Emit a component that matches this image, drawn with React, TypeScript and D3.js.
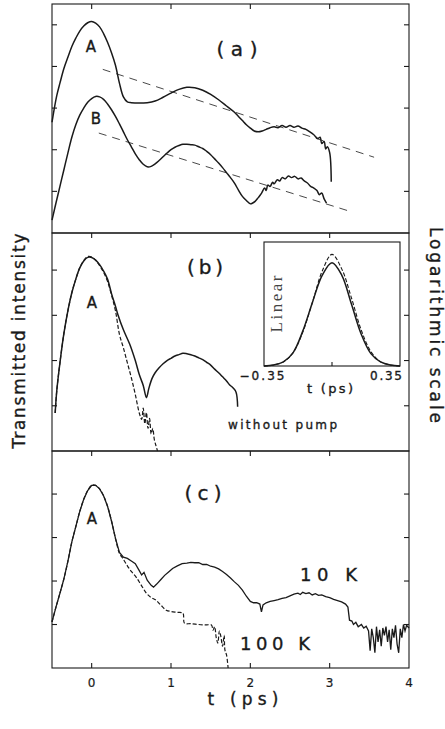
import React from "react";
import * as d3 from "d3";

// ---------- DATA ----------
const xTicks = [0, 1, 2, 3, 4];
const xTickLabels = ["0", "1", "2", "3", "4"];

// Panel (a): curves A and B (t in ps, log-intensity in tick units)
const aCurveA: [number, number][] = [
  [-0.5, 2.66], [-0.47, 3.0], [-0.44, 3.3], [-0.4, 3.6], [-0.35, 3.95], [-0.3, 4.22], [-0.25, 4.48], [-0.2, 4.68],
  [-0.15, 4.85], [-0.1, 4.97], [-0.05, 5.05], [0, 5.08], [0.05, 5.04], [0.1, 4.95], [0.15, 4.79], [0.2, 4.58],
  [0.25, 4.33], [0.3, 4.03], [0.35, 3.6], [0.4, 3.27], [0.45, 3.15], [0.5, 3.13], [0.6, 3.12], [0.7, 3.13],
  [0.8, 3.17], [0.9, 3.26], [1.0, 3.36], [1.1, 3.45], [1.2, 3.5], [1.3, 3.49], [1.4, 3.43], [1.5, 3.33],
  [1.6, 3.2], [1.7, 3.05], [1.8, 2.9], [1.85, 2.8], [1.9, 2.7], [1.95, 2.6], [2.0, 2.52], [2.05, 2.45],
  [2.1, 2.43], [2.15, 2.45], [2.2, 2.49], [2.25, 2.53], [2.3, 2.55], [2.35, 2.53], [2.4, 2.58], [2.45, 2.54],
  [2.5, 2.58], [2.55, 2.54], [2.6, 2.57], [2.65, 2.52], [2.7, 2.49], [2.75, 2.43], [2.8, 2.36], [2.85, 2.27],
  [2.88, 2.3], [2.9, 2.15], [2.93, 2.2], [2.95, 2.02], [2.97, 2.07], [3.0, 1.93], [3.02, 1.23],
];
const aCurveB: [number, number][] = [
  [-0.5, 0.31], [-0.45, 0.72], [-0.4, 1.12], [-0.35, 1.52], [-0.3, 1.92], [-0.25, 2.3], [-0.2, 2.6], [-0.15, 2.83],
  [-0.1, 3.0], [-0.05, 3.14], [0, 3.23], [0.05, 3.28], [0.1, 3.27], [0.15, 3.21], [0.2, 3.1], [0.25, 2.96],
  [0.3, 2.8], [0.35, 2.62], [0.4, 2.43], [0.45, 2.24], [0.5, 2.07], [0.55, 1.9], [0.6, 1.76], [0.65, 1.65],
  [0.7, 1.59], [0.75, 1.6], [0.8, 1.66], [0.85, 1.74], [0.9, 1.83], [0.95, 1.92], [1.0, 2.0], [1.05, 2.06],
  [1.1, 2.1], [1.15, 2.13], [1.2, 2.13], [1.25, 2.12], [1.3, 2.11], [1.35, 2.07], [1.4, 2.03], [1.45, 1.96],
  [1.5, 1.88], [1.55, 1.78], [1.6, 1.68], [1.65, 1.57], [1.7, 1.45], [1.75, 1.33], [1.8, 1.2], [1.85, 1.03],
  [1.9, 0.88], [1.95, 0.78], [2.0, 0.7], [2.03, 0.72], [2.06, 0.76], [2.1, 0.85], [2.14, 0.95], [2.18, 1.08],
  [2.2, 1.02], [2.22, 1.15], [2.25, 1.12], [2.28, 1.22], [2.3, 1.18], [2.34, 1.28], [2.37, 1.25], [2.4, 1.33],
  [2.44, 1.3], [2.48, 1.37], [2.52, 1.33], [2.56, 1.36], [2.6, 1.3], [2.64, 1.32], [2.68, 1.25], [2.72, 1.2],
  [2.76, 1.12], [2.8, 1.08], [2.84, 1.02], [2.87, 0.92], [2.9, 0.96], [2.93, 0.82], [2.96, 0.72],
];
const aGuide1: [number, number][] = [[0.14, 3.93], [3.56, 1.82]];
const aGuide2: [number, number][] = [[0.09, 2.4], [3.29, 0.5]];

// Panel (b): with pump (solid) and without pump (dashed)
const bSolid: [number, number][] = [
  [-0.46, 0.84], [-0.44, 1.33], [-0.4, 1.95], [-0.35, 2.6], [-0.3, 3.1], [-0.25, 3.5], [-0.2, 3.8], [-0.15, 4.05],
  [-0.1, 4.2], [-0.05, 4.28], [0, 4.28], [0.05, 4.22], [0.1, 4.12], [0.15, 3.98], [0.2, 3.8], [0.25, 3.48],
  [0.3, 3.2], [0.33, 3.02], [0.4, 2.68], [0.48, 2.36], [0.55, 2.0], [0.6, 1.69], [0.65, 1.45], [0.69, 1.18],
  [0.72, 1.38], [0.76, 1.6], [0.8, 1.73], [0.85, 1.84], [0.9, 1.93], [0.95, 2.0], [1.0, 2.05], [1.05, 2.1],
  [1.1, 2.13], [1.15, 2.16], [1.2, 2.15], [1.25, 2.13], [1.3, 2.1], [1.35, 2.06], [1.4, 2.02], [1.45, 1.96],
  [1.5, 1.9], [1.55, 1.81], [1.6, 1.73], [1.65, 1.64], [1.7, 1.55], [1.74, 1.46], [1.78, 1.4], [1.82, 1.3],
  [1.84, 0.98],
];
const bDashed: [number, number][] = [
  [-0.46, 0.84], [-0.44, 1.33], [-0.4, 1.95], [-0.35, 2.6], [-0.3, 3.1], [-0.25, 3.5], [-0.2, 3.8], [-0.15, 4.05],
  [-0.1, 4.21], [-0.05, 4.3], [0, 4.29], [0.05, 4.22], [0.1, 4.1], [0.15, 3.95], [0.2, 3.75], [0.25, 3.45],
  [0.3, 3.1], [0.35, 2.58], [0.4, 2.28], [0.45, 1.95], [0.5, 1.62], [0.55, 1.25], [0.6, 0.84], [0.63, 0.7],
  [0.65, 0.95], [0.67, 0.6], [0.69, 0.85], [0.71, 0.5], [0.73, 0.72], [0.75, 0.38], [0.77, 0.5], [0.79, 0.25],
  [0.81, 0.12], [0.83, 0.0],
];

// Inset (linear scale)
const insetT = [-0.35, -0.3, -0.25, -0.2, -0.15, -0.1, -0.05, 0, 0.05, 0.1, 0.15, 0.2, 0.25, 0.3, 0.35];
const insetSolid = [0.0, 0.01, 0.04, 0.13, 0.34, 0.62, 0.88, 1.0, 0.88, 0.6, 0.31, 0.12, 0.04, 0.01, 0.0];
const insetDashed = [0.0, 0.01, 0.04, 0.13, 0.33, 0.62, 0.92, 1.08, 0.94, 0.66, 0.35, 0.14, 0.04, 0.01, 0.0];
const insetTickLabels = ["\u22120.35", "0.35"];

// Panel (c): 10 K (solid) and 100 K (dashed)
const cSolid: [number, number][] = [
  [-0.5, 1.06], [-0.45, 1.4], [-0.4, 1.72], [-0.35, 2.05], [-0.3, 2.45], [-0.25, 2.9], [-0.2, 3.25], [-0.15, 3.6],
  [-0.1, 3.88], [-0.05, 4.08], [0, 4.2], [0.05, 4.2], [0.1, 4.12], [0.15, 3.96], [0.2, 3.72], [0.25, 3.38],
  [0.3, 2.98], [0.35, 2.66], [0.4, 2.55], [0.45, 2.52], [0.5, 2.46], [0.55, 2.4], [0.6, 2.24], [0.63, 2.14],
  [0.66, 2.2], [0.7, 2.02], [0.75, 1.9], [0.78, 1.86], [0.82, 1.93], [0.87, 2.03], [0.92, 2.13], [0.97, 2.21],
  [1.02, 2.29], [1.08, 2.35], [1.14, 2.4], [1.2, 2.41], [1.25, 2.43], [1.3, 2.42], [1.35, 2.42], [1.4, 2.38],
  [1.45, 2.38], [1.5, 2.34], [1.55, 2.32], [1.6, 2.28], [1.65, 2.22], [1.7, 2.15], [1.75, 2.07], [1.8, 1.98],
  [1.85, 1.9], [1.9, 1.79], [1.95, 1.65], [2.0, 1.53], [2.04, 1.5], [2.08, 1.5], [2.12, 1.47], [2.14, 1.29],
  [2.16, 1.45], [2.2, 1.5], [2.25, 1.53], [2.3, 1.55], [2.35, 1.57], [2.4, 1.6], [2.45, 1.62], [2.5, 1.66],
  [2.55, 1.7], [2.6, 1.72], [2.63, 1.69], [2.66, 1.74], [2.7, 1.71], [2.74, 1.73], [2.78, 1.68], [2.82, 1.71],
  [2.86, 1.67], [2.9, 1.68], [2.95, 1.64], [3.0, 1.62], [3.05, 1.58], [3.1, 1.55], [3.15, 1.52], [3.2, 1.47],
  [3.23, 1.4], [3.25, 1.1], [3.28, 1.08], [3.3, 1.0], [3.33, 1.05], [3.36, 0.95], [3.4, 1.0], [3.43, 0.92],
  [3.46, 0.96], [3.49, 0.85], [3.51, 0.4], [3.53, 0.9], [3.55, 0.7], [3.57, 0.35], [3.59, 0.95], [3.61, 0.6],
  [3.63, 0.88], [3.65, 0.5], [3.67, 0.92], [3.69, 0.75], [3.71, 0.95], [3.73, 0.6], [3.75, 0.88], [3.77, 0.42],
  [3.79, 0.9], [3.81, 0.7], [3.83, 0.98], [3.85, 0.55], [3.87, 0.35], [3.89, 0.9], [3.91, 0.7], [3.93, 1.0],
  [3.95, 0.85], [3.97, 0.98], [4.0, 0.92],
];
const cDashed: [number, number][] = [
  [-0.5, 1.06], [-0.45, 1.4], [-0.4, 1.72], [-0.35, 2.05], [-0.3, 2.45], [-0.25, 2.9], [-0.2, 3.25], [-0.15, 3.6],
  [-0.1, 3.88], [-0.05, 4.08], [0, 4.2], [0.05, 4.2], [0.1, 4.12], [0.15, 3.96], [0.2, 3.72], [0.25, 3.38],
  [0.3, 2.98], [0.35, 2.64], [0.4, 2.5], [0.45, 2.35], [0.5, 2.22], [0.56, 2.09], [0.62, 1.92], [0.69, 1.72],
  [0.75, 1.62], [0.81, 1.56], [0.87, 1.45], [0.94, 1.33], [1.0, 1.3], [1.08, 1.28], [1.15, 1.26], [1.17, 1.03],
  [1.25, 1.02], [1.35, 1.0], [1.44, 0.99], [1.51, 0.99], [1.53, 0.87], [1.55, 0.95], [1.57, 0.7], [1.59, 0.57],
  [1.61, 0.85], [1.63, 0.71], [1.65, 0.5], [1.67, 0.75], [1.68, 0.41], [1.7, 0.3], [1.72, 0.0],
];

const yTicksA = [1, 2, 3, 4, 5];
const yTicksB = [1, 2, 3, 4];
const yTicksC = [1, 2, 3, 4];

// ---------- LAYOUT ----------
const X0 = 52, X1 = 409;
const FONT = "'DejaVu Sans', Verdana, sans-serif";
const INK = "#1a1a1a";
const TS = 0.35; // text stroke for a slightly heavier print look

export default function App() {
  const x = d3.scaleLinear().domain([-0.5, 4]).range([X0, X1]);
  const yA = d3.scaleLinear().domain([0, 5.5]).range([233, 4]);
  const yB = d3.scaleLinear().domain([0, 4.82]).range([451, 233]);
  const yC = d3.scaleLinear().domain([0, 4.99]).range([668, 451]);

  const mk = (ys: d3.ScaleLinear<number, number>) =>
    d3.line<[number, number]>().x((d) => x(d[0])).y((d) => ys(d[1])).curve(d3.curveCatmullRom.alpha(0.5));
  const mkLin = (ys: d3.ScaleLinear<number, number>) =>
    d3.line<[number, number]>().x((d) => x(d[0])).y((d) => ys(d[1]));

  const ix = d3.scaleLinear().domain([-0.35, 0.35]).range([264, 400]);
  const iy = d3.scaleLinear().domain([0, 1.2]).range([366, 242]);
  const iline = d3
    .line<[number, number]>()
    .x((d) => ix(d[0]))
    .y((d) => iy(d[1]))
    .curve(d3.curveCatmullRom.alpha(0.5));
  const inSolid = insetT.map((t, i) => [t, insetSolid[i]] as [number, number]);
  const inDashed = insetT.map((t, i) => [t, insetDashed[i]] as [number, number]);

  const TL = 5;
  const panels = [
    { ys: yA, ticks: yTicksA, top: 4, bottom: 233, bottomTicks: false },
    { ys: yB, ticks: yTicksB, top: 233, bottom: 451, bottomTicks: false },
    { ys: yC, ticks: yTicksC, top: 451, bottom: 668, bottomTicks: true },
  ];

  return (
    <svg width={445} height={729} style={{ position: "absolute", left: 0, top: 0, background: "#fff" }}>
      <rect x={0} y={0} width={445} height={729} fill="#fff" />
      {panels.map((p, pi) => (
        <g key={pi} stroke={INK} strokeWidth={1.1} fill="none">
          <rect x={X0} y={p.top} width={X1 - X0} height={p.bottom - p.top} />
          {xTicks.slice(0, 4).map((t) => (
            <line key={"t" + t} x1={x(t)} x2={x(t)} y1={p.top} y2={p.top + TL} />
          ))}
          {p.bottomTicks &&
            xTicks.slice(0, 4).map((t) => <line key={"b" + t} x1={x(t)} x2={x(t)} y1={p.bottom} y2={p.bottom - TL} />)}
          {p.ticks.map((v) => (
            <g key={"y" + v}>
              <line x1={X0} x2={X0 + TL} y1={p.ys(v)} y2={p.ys(v)} />
              <line x1={X1} x2={X1 - TL} y1={p.ys(v)} y2={p.ys(v)} />
            </g>
          ))}
        </g>
      ))}

      {/* Panel (a) */}
      <g fill="none" stroke={INK}>
        <path d={mk(yA)(aCurveA) || ""} strokeWidth={1.5} />
        <path d={mk(yA)(aCurveB) || ""} strokeWidth={1.5} />
        <path d={mkLin(yA)(aGuide1) || ""} strokeWidth={0.8} strokeDasharray="8,6" />
        <path d={mkLin(yA)(aGuide2) || ""} strokeWidth={0.8} strokeDasharray="8,6" />
      </g>
      <g fill={INK} stroke={INK} strokeWidth={TS} fontFamily={FONT}>
        <text x={237} y={56} fontSize={20} textAnchor="middle" textLength={41} lengthAdjust="spacing">(a)</text>
        <text x={91} y={52} fontSize={15} textAnchor="middle">A</text>
        <text x={96} y={124} fontSize={15} textAnchor="middle">B</text>
      </g>

      {/* Panel (b) */}
      <g fill="none" stroke={INK}>
        <path d={mk(yB)(bDashed) || ""} strokeWidth={1.2} strokeDasharray="4,2" />
        <path d={mk(yB)(bSolid) || ""} strokeWidth={1.5} />
      </g>
      <g fill={INK} stroke={INK} strokeWidth={TS} fontFamily={FONT}>
        <text x={205} y={274} fontSize={20} textAnchor="middle" textLength={36} lengthAdjust="spacing">(b)</text>
        <text x={92} y={308} fontSize={15} textAnchor="middle">A</text>
        <text x={228} y={429} fontSize={12} textLength={109} lengthAdjust="spacing">without pump</text>
      </g>

      {/* Inset */}
      <g>
        <rect x={264} y={242} width={136} height={124} fill="#fff" stroke={INK} strokeWidth={1.1} />
        <line x1={ix(0)} x2={ix(0)} y1={366} y2={362} stroke={INK} strokeWidth={1.1} />
        <path d={iline(inDashed) || ""} fill="none" stroke={INK} strokeWidth={1.1} strokeDasharray="4,2" />
        <path d={iline(inSolid) || ""} fill="none" stroke={INK} strokeWidth={1.5} />
        <g fill={INK} stroke={INK} strokeWidth={TS} fontFamily={FONT} textAnchor="middle">
          <text x={262} y={380} fontSize={12} textLength={45} lengthAdjust="spacing">{insetTickLabels[0]}</text>
          <text x={386} y={380} fontSize={12} textLength={32} lengthAdjust="spacing">{insetTickLabels[1]}</text>
          <text x={330} y={393} fontSize={13} textLength={46} lengthAdjust="spacing">t (ps)</text>
        </g>
        <text transform="translate(282,304) rotate(-90)" fontSize={17} fontFamily="'Liberation Serif', 'DejaVu Serif', serif"
          textAnchor="middle" fill="#444" textLength={57} lengthAdjust="spacing">Linear</text>
      </g>

      {/* Panel (c) */}
      <g fill="none" stroke={INK}>
        <path d={mk(yC)(cDashed) || ""} strokeWidth={1.2} strokeDasharray="4,2" />
        <path d={mkLin(yC)(cSolid) || ""} strokeWidth={1.3} />
      </g>
      <g fill={INK} stroke={INK} strokeWidth={TS} fontFamily={FONT}>
        <text x={203} y={500} fontSize={20} textAnchor="middle" textLength={37} lengthAdjust="spacing">(c)</text>
        <text x={92} y={524} fontSize={15} textAnchor="middle">A</text>
        <text x={300} y={581} fontSize={18} textLength={57} lengthAdjust="spacing">10 K</text>
        <text x={240} y={650} fontSize={18} textLength={70} lengthAdjust="spacing">100 K</text>
      </g>

      {/* X axis labels */}
      <g fill={INK} stroke={INK} strokeWidth={0.2} fontFamily={FONT} fontSize={12} textAnchor="middle">
        {xTicks.map((t, i) => (
          <text key={t} x={x(t)} y={687}>{xTickLabels[i]}</text>
        ))}
      </g>
      <g fill={INK} stroke={INK} strokeWidth={TS} fontFamily={FONT} textAnchor="middle">
        <text x={243} y={705} fontSize={17} textLength={71} lengthAdjust="spacing">t (ps)</text>
        <text transform="translate(25,341) rotate(-90)" fontSize={17} textLength={215} lengthAdjust="spacing">Transmitted intensity</text>
        <text transform="translate(430,325) rotate(90)" fontSize={17} textLength={196} lengthAdjust="spacing">Logarithmic scale</text>
      </g>
    </svg>
  );
}
